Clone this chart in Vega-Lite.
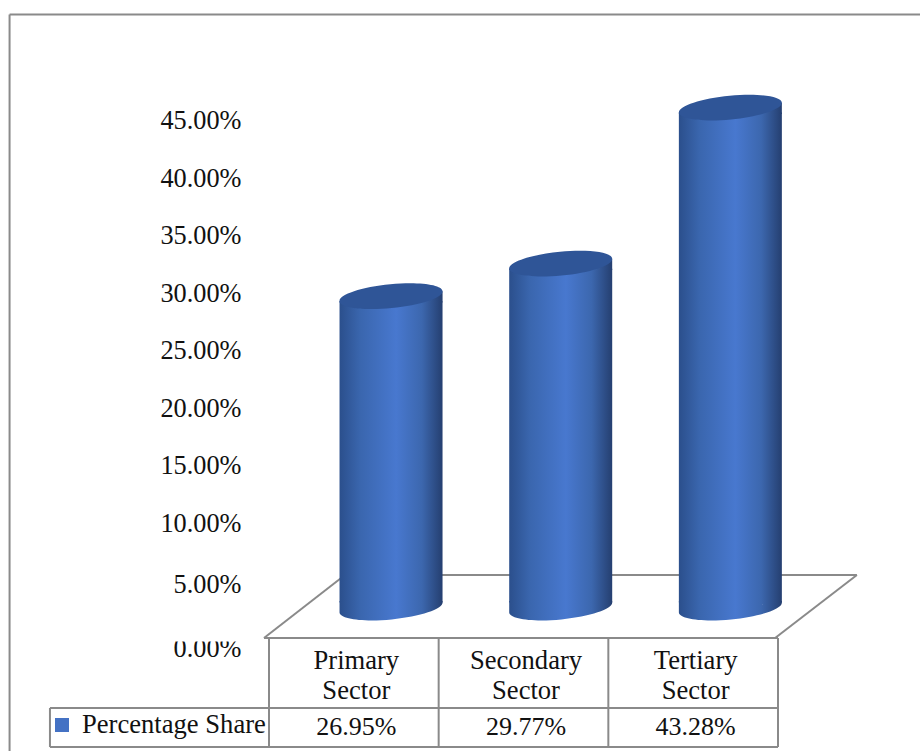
{
  "$schema": "https://vega.github.io/schema/vega-lite/v6.json",
  "width": 920,
  "height": 751,
  "padding": 0,
  "autosize": "none",
  "background": "white",
  "config": {"view": {"stroke": null}, "font": "Liberation Serif"},
  "datasets": {
    "sectors": [
      {"sector": "Primary Sector", "heading": "Primary\nSector", "share": 0.2695},
      {"sector": "Secondary Sector", "heading": "Secondary\nSector", "share": 0.2977},
      {"sector": "Tertiary Sector", "heading": "Tertiary\nSector", "share": 0.4328}
    ],
    "frameLines": [
      {"part": "border top", "a": -1.529, "b": 3.8369, "lo": 0.5134, "hi": 0.5134},
      {"part": "border left", "a": -1.529, "b": -1.529, "lo": -0.12424, "hi": 0.5134},
      {"part": "floor back", "a": 0.448, "b": 3.465, "lo": 0.02814, "hi": 0.02814},
      {"part": "floor left", "a": -0.0295, "b": 0.448, "lo": -0.02641, "hi": 0.02814},
      {"part": "floor right", "a": 2.983, "b": 3.465, "lo": -0.02641, "hi": 0.02814},
      {"part": "floor front", "a": -0.0295, "b": 3, "lo": -0.02641, "hi": -0.02641},
      {"part": "table row", "a": -1.291, "b": 3, "lo": -0.08701, "hi": -0.08701},
      {"part": "table bottom", "a": -1.291, "b": 3, "lo": -0.12078, "hi": -0.12078},
      {"part": "legend edge", "a": -1.291, "b": -1.291, "lo": -0.12078, "hi": -0.08701},
      {"part": "column 0", "a": 0, "b": 0, "lo": -0.12078, "hi": -0.02641},
      {"part": "column 1", "a": 1, "b": 1, "lo": -0.12078, "hi": -0.02641},
      {"part": "column 2", "a": 2, "b": 2, "lo": -0.12078, "hi": -0.02641},
      {"part": "column 3", "a": 3, "b": 3, "lo": -0.12078, "hi": -0.02641}
    ]
  },
  "resolve": {"scale": {"x": "independent", "y": "independent"}},
  "layer": [
    {
      "description": "Value axis, set apart from the cylinders because of the 3-D projection",
      "data": {"name": "sectors"},
      "mark": {"type": "point", "opacity": 0},
      "encoding": {
        "x": {"datum": 0, "type": "quantitative", "scale": {"domain": [0, 1], "range": [245, 246]}, "axis": null},
        "y": {
          "field": "share",
          "type": "quantitative",
          "scale": {"domain": [0, 0.05, 0.1, 0.45], "range": [648, 584.5, 523, 120.5], "nice": false, "zero": false},
          "axis": {
            "values": [0, 0.05, 0.1, 0.15, 0.2, 0.25, 0.3, 0.35, 0.4, 0.45],
            "format": ".2%",
            "title": null,
            "domain": false,
            "ticks": false,
            "grid": false,
            "labelFont": "Liberation Serif",
            "labelFontSize": 26.3,
            "labelColor": "#111111",
            "labelPadding": 4,
            "labelOverlap": false,
            "offset": -245
          }
        }
      }
    },
    {
      "description": "Chart geometry, cylinders and table share one value scale",
      "encoding": {
        "y": {
          "type": "quantitative",
          "scale": {"domain": [-0.12424, 0.52597], "nice": false, "zero": false},
          "axis": null
        }
      },
      "layer": [
        {
          "description": "The table's top edge trims the lowest axis label",
          "data": {"values": [{"a": -0.55, "b": -0.15, "at": -0.02684}]},
          "mark": {"type": "rule", "stroke": "white", "strokeWidth": 6},
          "encoding": {
            "x": {"field": "a", "type": "quantitative", "scale": {"domain": [-1.5854, 3.8369], "nice": false, "zero": false}, "axis": null},
            "x2": {"field": "b"},
            "y": {"field": "at", "type": "quantitative"}
          }
        },
        {
          "description": "Outer border, floor parallelogram and table grid",
          "data": {"name": "frameLines"},
          "mark": {"type": "rule", "stroke": "#8a8a8a", "strokeWidth": 2},
          "encoding": {
            "x": {"field": "a", "type": "quantitative", "scale": {"domain": [-1.5854, 3.8369], "nice": false, "zero": false}, "axis": null},
            "x2": {"field": "b"},
            "y": {"field": "lo", "type": "quantitative"},
            "y2": {"field": "hi"}
          }
        },
        {
          "description": "Cylinders: shaded body, curved base, slanted shoulder and dark lid",
          "data": {"name": "sectors"},
          "encoding": {
            "x": {
              "field": "sector",
              "type": "nominal",
              "sort": null,
              "scale": {"domain": ["Primary Sector", "Secondary Sector", "Tertiary Sector"], "range": [306.2, 815.2], "paddingInner": 0, "paddingOuter": 0},
              "axis": null
            }
          },
          "layer": [
            {
              "mark": {
                "type": "bar",
                "size": 103,
                "yOffset": 5,
                "y2Offset": -5,
                "fill": {
                  "gradient": "linear", "x1": 0, "x2": 1, "y1": 0, "y2": 0,
                  "stops": [
                    {"offset": 0, "color": "#2b4f8c"},
                    {"offset": 0.2, "color": "#3a66ae"},
                    {"offset": 0.55, "color": "#4878cf"},
                    {"offset": 0.8, "color": "#3c67ae"},
                    {"offset": 1, "color": "#253f70"}
                  ]
                }
              },
              "encoding": {
                "y": {"field": "share", "type": "quantitative"},
                "y2": {"datum": 0}
              }
            },
            {
              "mark": {
                "type": "point",
                "filled": true,
                "opacity": 1,
                "size": 42436,
                "shape": "M-0.5,0.048A0.5,0.115,-5.6,1,1,0.5,-0.048A0.5,0.115,-5.6,1,1,-0.5,0.048ZM-0.5,-0.062L0.5,-0.062L0.5,-0.048L-0.5,0.048Z",
                "fill": {
                  "gradient": "linear", "x1": 0, "x2": 1, "y1": 0, "y2": 0,
                  "stops": [
                    {"offset": 0, "color": "#2b4f8c"},
                    {"offset": 0.2, "color": "#3a66ae"},
                    {"offset": 0.55, "color": "#4878cf"},
                    {"offset": 0.8, "color": "#3c67ae"},
                    {"offset": 1, "color": "#253f70"}
                  ]
                }
              },
              "encoding": {"y": {"datum": 0, "type": "quantitative"}}
            },
            {
              "mark": {
                "type": "point",
                "filled": true,
                "opacity": 1,
                "size": 42436,
                "shape": "M-0.5,0.048L0.5,-0.048L0.5,0.062L-0.5,0.062Z",
                "fill": {
                  "gradient": "linear", "x1": 0, "x2": 1, "y1": 0, "y2": 0,
                  "stops": [
                    {"offset": 0, "color": "#2b4f8c"},
                    {"offset": 0.2, "color": "#3a66ae"},
                    {"offset": 0.55, "color": "#4878cf"},
                    {"offset": 0.8, "color": "#3c67ae"},
                    {"offset": 1, "color": "#253f70"}
                  ]
                }
              },
              "encoding": {"y": {"field": "share", "type": "quantitative"}}
            },
            {
              "mark": {
                "type": "point",
                "filled": true,
                "opacity": 1,
                "size": 42436,
                "shape": "M-0.5,0.048A0.5,0.115,-5.6,1,1,0.5,-0.048A0.5,0.115,-5.6,1,1,-0.5,0.048Z",
                "fill": "#2f5597"
              },
              "encoding": {"y": {"field": "share", "type": "quantitative"}}
            }
          ]
        },
        {
          "description": "Table cells: sector headings and their shares",
          "data": {"name": "sectors"},
          "encoding": {
            "x": {
              "field": "sector",
              "type": "nominal",
              "sort": null,
              "scale": {"domain": ["Primary Sector", "Secondary Sector", "Tertiary Sector"], "range": [271.5, 780.5], "paddingInner": 0, "paddingOuter": 0},
              "axis": null
            }
          },
          "layer": [
            {
              "mark": {"type": "text", "font": "Liberation Serif", "fontSize": 26.6, "color": "#111111", "lineBreak": "\n", "lineHeight": 30, "baseline": "middle"},
              "encoding": {
                "y": {"datum": -0.04632, "type": "quantitative"},
                "text": {"field": "heading"}
              }
            },
            {
              "mark": {"type": "text", "font": "Liberation Serif", "fontSize": 26, "color": "#111111", "baseline": "middle"},
              "encoding": {
                "y": {"datum": -0.10346, "type": "quantitative"},
                "text": {"field": "share", "type": "quantitative", "format": ".2%"}
              }
            }
          ]
        },
        {
          "description": "Legend cell of the data table",
          "data": {"values": [{"series": "Percentage Share", "key": -1.22, "labelAt": -1.102}]},
          "encoding": {
            "y": {"datum": -0.10173, "type": "quantitative"}
          },
          "layer": [
            {
              "mark": {"type": "square", "size": 196, "color": "#4472c4", "opacity": 1},
              "encoding": {
                "x": {"field": "key", "type": "quantitative", "scale": {"domain": [-1.5854, 3.8369], "nice": false, "zero": false}, "axis": null}
              }
            },
            {
              "mark": {"type": "text", "font": "Liberation Serif", "fontSize": 26.6, "color": "#111111", "align": "left", "baseline": "middle"},
              "encoding": {
                "x": {"field": "labelAt", "type": "quantitative", "scale": {"domain": [-1.5854, 3.8369], "nice": false, "zero": false}, "axis": null},
                "text": {"field": "series"}
              }
            }
          ]
        }
      ]
    }
  ]
}
